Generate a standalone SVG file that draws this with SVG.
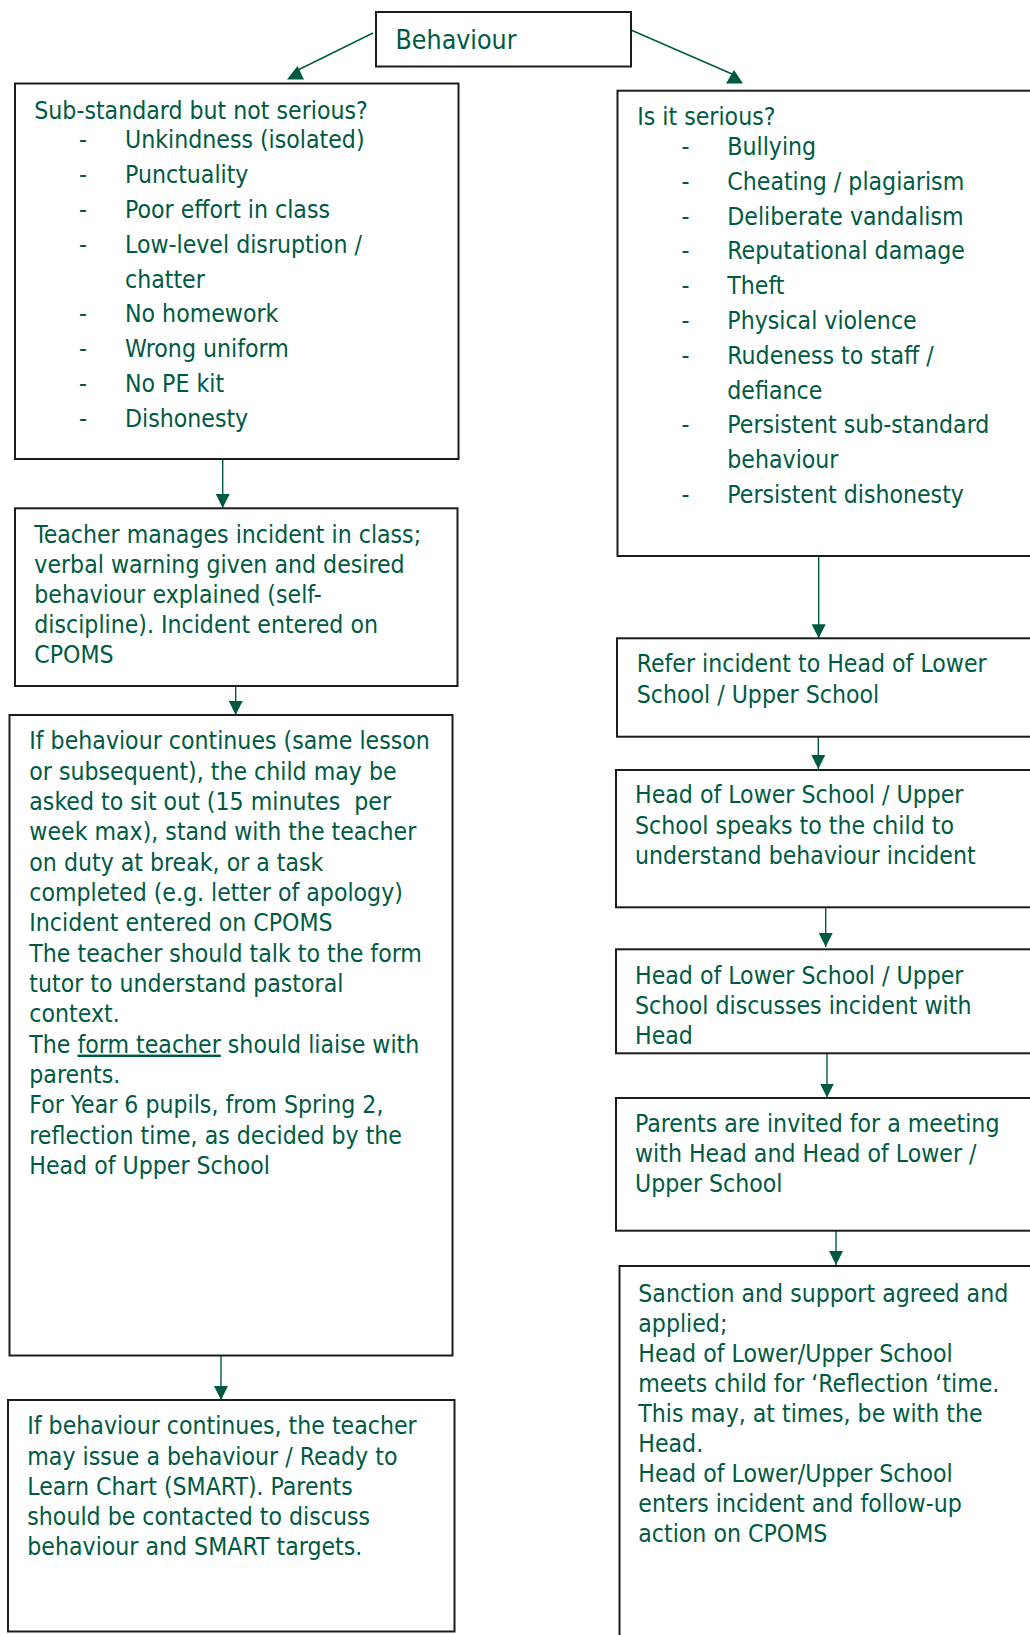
<svg xmlns="http://www.w3.org/2000/svg" width="1030" height="1635" viewBox="0 0 1030 1635">
<style>
.box{fill:#fff;stroke:#1c1c1c;stroke-width:2}
.t{font-family:'DejaVu Sans Condensed','DejaVu Sans',sans-serif;font-stretch:condensed;font-size:24.6px;fill:#005A43}
.big{font-size:26.5px}
.c{stroke:#005A43;stroke-width:1.4;fill:none}
.c.a{marker-end:url(#ah)}
.h{fill:#005A43}
</style>
<defs>
<marker id="ah" markerUnits="userSpaceOnUse" viewBox="0 0 14 14" markerWidth="14" markerHeight="14" refX="14" refY="7" orient="auto">
<path d="M0,0 L14,7 L0,14 Z" fill="#005A43"/>
</marker>
</defs>
<rect width="1030" height="1635" fill="#fff"/>

<g id="connectors">
<line class="c" x1="373" y1="33" x2="298" y2="70"/>
<polygon class="h" points="287,79.5 304,79.5 297.5,66"/>
<line class="c" x1="631" y1="30" x2="732" y2="74"/>
<polygon class="h" points="726,83.5 743,83.5 734,70"/>
<line class="c a" x1="222.7" y1="459" x2="222.7" y2="508"/>
<line class="c a" x1="235.7" y1="686" x2="235.7" y2="715"/>
<line class="c a" x1="221" y1="1355.5" x2="221" y2="1400"/>
<line class="c a" x1="818.7" y1="556" x2="818.7" y2="638.3"/>
<line class="c a" x1="818.3" y1="736.7" x2="818.3" y2="769"/>
<line class="c a" x1="825.7" y1="907.3" x2="825.7" y2="947"/>
<line class="c a" x1="827" y1="1053.3" x2="827" y2="1097.5"/>
<line class="c a" x1="836" y1="1230.7" x2="836" y2="1265"/>
</g>

<g id="behaviour">
<rect class="box" x="376" y="12" width="255" height="54.5"/>
<text class="t big" x="395.5" y="49.3">Behaviour</text>
</g>

<g id="substandard">
<rect class="box" x="15" y="83.5" width="443.5" height="375.5"/>
<text class="t" x="34.3" y="119">Sub-standard but not serious?</text>
<g class="t">
<text class="t" x="79" y="148.3">-</text><text class="t" x="125" y="148.3">Unkindness (isolated)</text>
<text class="t" x="79" y="183.1">-</text><text class="t" x="125" y="183.1">Punctuality</text>
<text class="t" x="79" y="217.9">-</text><text class="t" x="125" y="217.9">Poor effort in class</text>
<text class="t" x="79" y="252.7">-</text><text class="t" x="125" y="252.7">Low-level disruption /</text>
<text class="t" x="125" y="287.5">chatter</text>
<text class="t" x="79" y="322.3">-</text><text class="t" x="125" y="322.3">No homework</text>
<text class="t" x="79" y="357.1">-</text><text class="t" x="125" y="357.1">Wrong uniform</text>
<text class="t" x="79" y="391.9">-</text><text class="t" x="125" y="391.9">No PE kit</text>
<text class="t" x="79" y="426.7">-</text><text class="t" x="125" y="426.7">Dishonesty</text>
</g>
</g>

<g id="teacher-manages">
<rect class="box" x="15" y="508.3" width="442.5" height="177.7"/>
<text class="t" x="34.3" y="543.3">Teacher manages incident in class;</text>
<text class="t" x="34.3" y="573.3">verbal warning given and desired</text>
<text class="t" x="34.3" y="603.3">behaviour explained (self-</text>
<text class="t" x="34.3" y="633.3">discipline). Incident entered on</text>
<text class="t" x="34.3" y="663.3">CPOMS</text>
</g>

<g id="behaviour-continues">
<rect class="box" x="9.5" y="715" width="443" height="640.5"/>
<text class="t" x="29.3" y="749.3">If behaviour continues (same lesson</text>
<text class="t" x="29.3" y="779.6">or subsequent), the child may be</text>
<text class="t" x="29.3" y="810" xml:space="preserve">asked to sit out (15 minutes  per</text>
<text class="t" x="29.3" y="840.3">week max), stand with the teacher</text>
<text class="t" x="29.3" y="870.6">on duty at break, or a task</text>
<text class="t" x="29.3" y="901">completed (e.g. letter of apology)</text>
<text class="t" x="29.3" y="931.3">Incident entered on CPOMS</text>
<text class="t" x="29.3" y="961.6">The teacher should talk to the form</text>
<text class="t" x="29.3" y="992">tutor to understand pastoral</text>
<text class="t" x="29.3" y="1022.3">context.</text>
<text class="t" x="29.3" y="1052.6">The <tspan text-decoration="underline">form teacher</tspan> should liaise with</text>
<text class="t" x="29.3" y="1083">parents.</text>
<text class="t" x="29.3" y="1113.3">For Year 6 pupils, from Spring 2,</text>
<text class="t" x="29.3" y="1143.6">reflection time, as decided by the</text>
<text class="t" x="29.3" y="1174">Head of Upper School</text>
</g>

<g id="behaviour-chart">
<rect class="box" x="8" y="1400" width="446.5" height="231.5"/>
<text class="t" x="27.3" y="1434.3">If behaviour continues, the teacher</text>
<text class="t" x="27.3" y="1464.5">may issue a behaviour / Ready to</text>
<text class="t" x="27.3" y="1494.7">Learn Chart (SMART). Parents</text>
<text class="t" x="27.3" y="1524.9">should be contacted to discuss</text>
<text class="t" x="27.3" y="1555.1">behaviour and SMART targets.</text>
</g>

<g id="serious">
<rect class="box" x="617.5" y="90.7" width="430" height="465.3"/>
<text class="t" x="637.3" y="125">Is it serious?</text>
<text class="t" x="681.5" y="155">-</text><text class="t" x="727.3" y="155">Bullying</text>
<text class="t" x="681.5" y="189.8">-</text><text class="t" x="727.3" y="189.8">Cheating / plagiarism</text>
<text class="t" x="681.5" y="224.6">-</text><text class="t" x="727.3" y="224.6">Deliberate vandalism</text>
<text class="t" x="681.5" y="259.4">-</text><text class="t" x="727.3" y="259.4">Reputational damage</text>
<text class="t" x="681.5" y="294.2">-</text><text class="t" x="727.3" y="294.2">Theft</text>
<text class="t" x="681.5" y="329">-</text><text class="t" x="727.3" y="329">Physical violence</text>
<text class="t" x="681.5" y="363.8">-</text><text class="t" x="727.3" y="363.8">Rudeness to staff /</text>
<text class="t" x="727.3" y="398.6">defiance</text>
<text class="t" x="681.5" y="433.4">-</text><text class="t" x="727.3" y="433.4">Persistent sub-standard</text>
<text class="t" x="727.3" y="468.2">behaviour</text>
<text class="t" x="681.5" y="503">-</text><text class="t" x="727.3" y="503">Persistent dishonesty</text>
</g>

<g id="refer">
<rect class="box" x="617" y="638.3" width="430" height="98.4"/>
<text class="t" x="636.7" y="671.7">Refer incident to Head of Lower</text>
<text class="t" x="636.7" y="702.5">School / Upper School</text>
</g>

<g id="speaks">
<rect class="box" x="616" y="770" width="431" height="137.3"/>
<text class="t" x="635" y="803.3">Head of Lower School / Upper</text>
<text class="t" x="635" y="833.8">School speaks to the child to</text>
<text class="t" x="635" y="864.3">understand behaviour incident</text>
</g>

<g id="discusses">
<rect class="box" x="616" y="949.3" width="431" height="104"/>
<text class="t" x="635" y="984">Head of Lower School / Upper</text>
<text class="t" x="635" y="1014">School discusses incident with</text>
<text class="t" x="635" y="1044">Head</text>
</g>

<g id="parents">
<rect class="box" x="616" y="1098" width="431" height="132.7"/>
<text class="t" x="635" y="1131.7">Parents are invited for a meeting</text>
<text class="t" x="635" y="1162">with Head and Head of Lower /</text>
<text class="t" x="635" y="1192.3">Upper School</text>
</g>

<g id="sanction">
<rect class="box" x="619.5" y="1266" width="430" height="380"/>
<text class="t" x="638.3" y="1301.7">Sanction and support agreed and</text>
<text class="t" x="638.3" y="1331.7">applied;</text>
<text class="t" x="638.3" y="1361.7">Head of Lower/Upper School</text>
<text class="t" x="638.3" y="1391.7">meets child for ‘Reflection ‘time.</text>
<text class="t" x="638.3" y="1421.7">This may, at times, be with the</text>
<text class="t" x="638.3" y="1451.7">Head.</text>
<text class="t" x="638.3" y="1481.7">Head of Lower/Upper School</text>
<text class="t" x="638.3" y="1511.7">enters incident and follow-up</text>
<text class="t" x="638.3" y="1541.7">action on CPOMS</text>
</g>
</svg>
